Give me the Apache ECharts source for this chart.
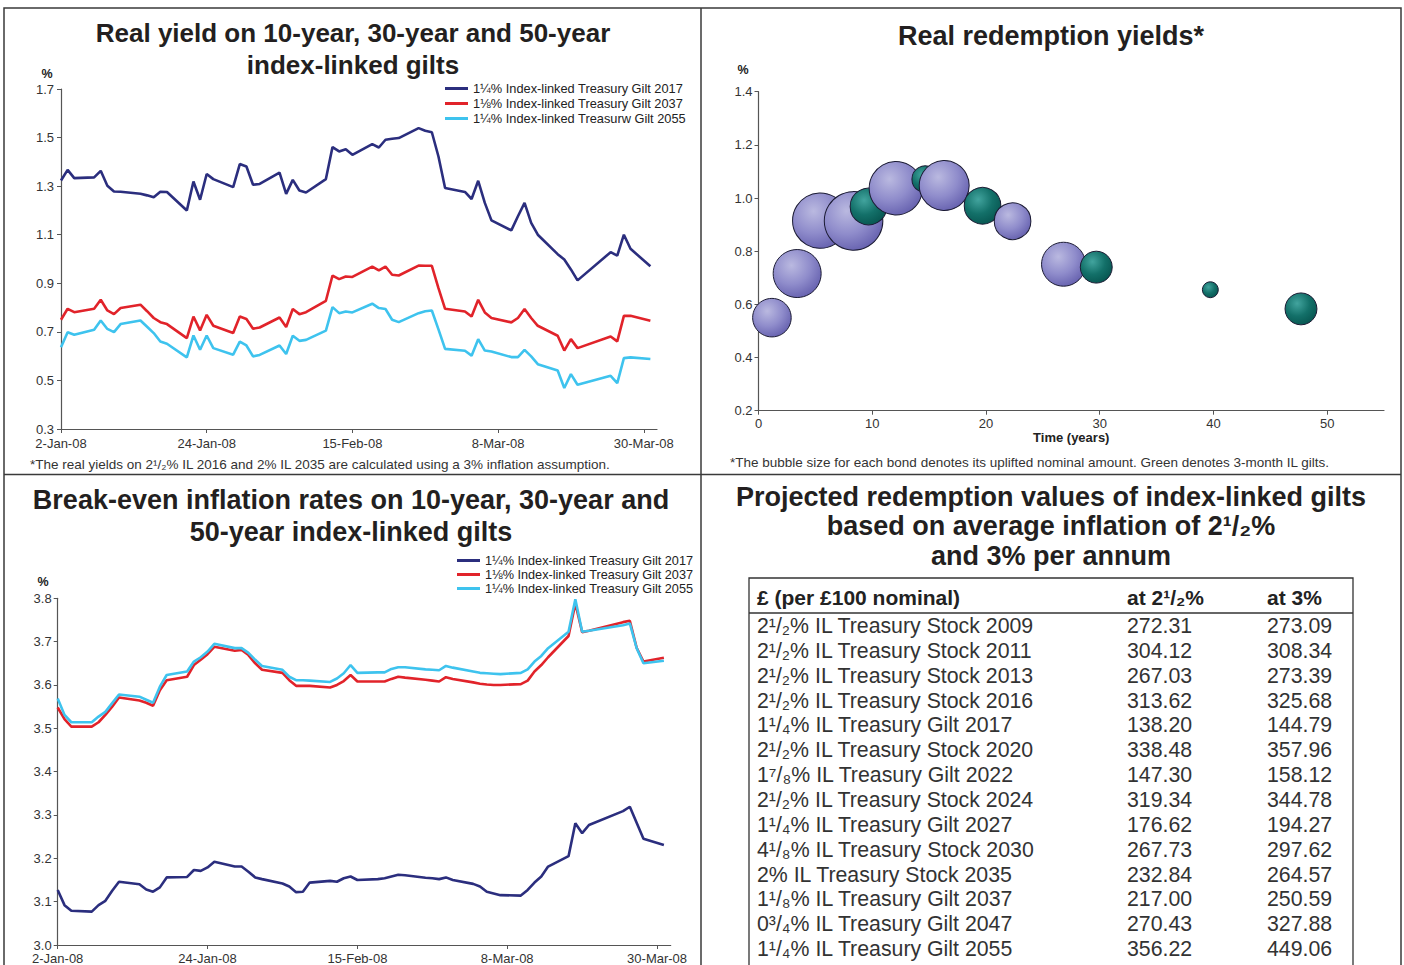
<!DOCTYPE html>
<html><head><meta charset="utf-8">
<script src="https://cdn.jsdelivr.net/npm/echarts@6/dist/echarts.min.js"></script>
<style>html,body{margin:0;padding:0;background:#fff}#c{width:1404px;height:965px}</style>
</head><body><div id="c"></div>
<script>
// ---------- DATA ----------
const dates = ['2008-01-02','2008-01-03','2008-01-04','2008-01-07','2008-01-08','2008-01-09','2008-01-10','2008-01-11','2008-01-14','2008-01-15','2008-01-16','2008-01-17','2008-01-18','2008-01-21','2008-01-22','2008-01-23','2008-01-24','2008-01-25','2008-01-28','2008-01-29','2008-01-30','2008-01-31','2008-02-01','2008-02-04','2008-02-05','2008-02-06','2008-02-07','2008-02-08','2008-02-11','2008-02-12','2008-02-13','2008-02-14','2008-02-15','2008-02-18','2008-02-19','2008-02-20','2008-02-21','2008-02-22','2008-02-25','2008-02-26','2008-02-27','2008-02-28','2008-02-29','2008-03-03','2008-03-04','2008-03-05','2008-03-06','2008-03-07','2008-03-10','2008-03-11','2008-03-12','2008-03-13','2008-03-14','2008-03-17','2008-03-18','2008-03-19','2008-03-20','2008-03-25','2008-03-26','2008-03-27','2008-03-28','2008-03-31'];

const realYield2017 = [1.323,1.367,1.333,1.336,1.363,1.302,1.278,1.277,1.269,1.262,1.254,1.277,1.276,1.200,1.319,1.244,1.350,1.329,1.296,1.391,1.381,1.306,1.309,1.356,1.268,1.326,1.282,1.274,1.329,1.461,1.443,1.452,1.429,1.473,1.459,1.491,1.495,1.498,1.539,1.528,1.522,1.422,1.292,1.276,1.247,1.322,1.231,1.159,1.118,1.176,1.231,1.149,1.100,1.020,0.998,0.957,0.912,1.028,1.014,1.100,1.042,0.970];
const realYield2037 = [0.750,0.795,0.781,0.795,0.832,0.788,0.773,0.798,0.812,0.785,0.757,0.740,0.732,0.674,0.763,0.706,0.770,0.725,0.695,0.763,0.753,0.713,0.718,0.759,0.720,0.794,0.773,0.781,0.828,0.932,0.917,0.928,0.926,0.969,0.953,0.969,0.935,0.932,0.973,0.972,0.972,0.880,0.795,0.784,0.763,0.832,0.780,0.757,0.739,0.757,0.794,0.757,0.725,0.684,0.623,0.670,0.633,0.681,0.661,0.766,0.766,0.746];
const realYield2055 = [0.637,0.698,0.688,0.709,0.747,0.712,0.699,0.732,0.747,0.721,0.695,0.660,0.651,0.595,0.685,0.626,0.685,0.633,0.606,0.660,0.644,0.599,0.605,0.644,0.609,0.684,0.663,0.667,0.705,0.802,0.777,0.784,0.780,0.816,0.798,0.794,0.750,0.740,0.777,0.785,0.788,0.710,0.630,0.622,0.602,0.670,0.623,0.619,0.596,0.596,0.626,0.599,0.567,0.541,0.469,0.526,0.482,0.519,0.489,0.592,0.595,0.588];

const breakEven2017 = [3.127,3.092,3.079,3.077,3.092,3.102,3.125,3.146,3.140,3.128,3.123,3.133,3.156,3.157,3.173,3.171,3.179,3.192,3.181,3.181,3.169,3.156,3.152,3.142,3.135,3.122,3.123,3.144,3.148,3.146,3.154,3.158,3.150,3.152,3.154,3.158,3.162,3.161,3.155,3.154,3.152,3.156,3.150,3.141,3.135,3.123,3.119,3.115,3.114,3.127,3.144,3.158,3.181,3.205,3.281,3.258,3.277,3.309,3.319,3.282,3.245,3.231];
const breakEven2037 = [3.548,3.521,3.504,3.504,3.514,3.531,3.550,3.571,3.564,3.559,3.552,3.588,3.611,3.619,3.646,3.658,3.671,3.688,3.679,3.681,3.669,3.650,3.635,3.628,3.611,3.598,3.598,3.598,3.594,3.600,3.609,3.623,3.608,3.608,3.608,3.614,3.619,3.617,3.612,3.610,3.608,3.618,3.614,3.606,3.603,3.601,3.600,3.600,3.602,3.610,3.631,3.646,3.664,3.713,3.788,3.722,3.725,3.745,3.748,3.686,3.654,3.663];
const breakEven2055 = [3.569,3.531,3.514,3.514,3.527,3.538,3.558,3.578,3.573,3.566,3.559,3.596,3.623,3.631,3.654,3.664,3.677,3.695,3.685,3.685,3.674,3.658,3.644,3.635,3.619,3.611,3.611,3.610,3.607,3.615,3.627,3.646,3.628,3.629,3.629,3.637,3.641,3.641,3.636,3.635,3.634,3.644,3.640,3.631,3.628,3.627,3.626,3.625,3.628,3.636,3.654,3.667,3.685,3.723,3.798,3.723,3.725,3.738,3.742,3.685,3.650,3.656];

const dateTickLabels = ['2-Jan-08','24-Jan-08','15-Feb-08','8-Mar-08','30-Mar-08'];
const realYieldTicks = [0.3,0.5,0.7,0.9,1.1,1.3,1.5,1.7];
const breakEvenTicks = [3.0,3.1,3.2,3.3,3.4,3.5,3.6,3.7,3.8];
const bubbleYieldTicks = [0.2,0.4,0.6,0.8,1.0,1.2,1.4];
const bubbleTimeTicks = [0,10,20,30,40,50];

const legendTop = ['1\u00BC% Index-linked Treasury Gilt 2017','1\u215B% Index-linked Treasury Gilt 2037','1\u00BC% Index-linked Treasurw Gilt 2055'];
const legendBottom = ['1\u00BC% Index-linked Treasury Gilt 2017 ','1\u215B% Index-linked Treasury Gilt 2037 ','1\u00BC% Index-linked Treasury Gilt 2055 '];

// bubbles: time to maturity (years), real yield (%), uplifted nominal (est.), 3-month IL flag
const bubbleTime  = [1.18,3.40,5.43,8.36,9.67,12.08,14.66,16.33,19.70,22.34,26.82,29.70,39.73,47.70];
const bubbleYield = [0.550,0.716,0.915,0.914,0.968,1.037,1.071,1.047,0.971,0.913,0.751,0.740,0.655,0.583];
const bubbleSize  = [12.4,19.2,25.6,28.6,11.2,23.8,5.9,20.8,11.2,11.2,16.1,8.5,2.1,8.5];
const bubbleThreeMonth = [0,0,0,0,1,0,1,0,1,0,0,1,1,1];

const tableBonds = ['2\u00B9/\u2082% IL Treasury Stock 2009','2\u00B9/\u2082% IL Treasury Stock 2011','2\u00B9/\u2082% IL Treasury Stock 2013','2\u00B9/\u2082% IL Treasury Stock 2016','1\u00B9/\u2084% IL Treasury Gilt 2017','2\u00B9/\u2082% IL Treasury Stock 2020','1\u2077/\u2088% IL Treasury Gilt 2022','2\u00B9/\u2082% IL Treasury Stock 2024','1\u00B9/\u2084% IL Treasury Gilt 2027','4\u00B9/\u2088% IL Treasury Stock 2030','2% IL Treasury Stock 2035','1\u00B9/\u2088% IL Treasury Gilt 2037','0\u00B3/\u2084% IL Treasury Gilt 2047','1\u00B9/\u2084% IL Treasury Gilt 2055'];
const tableAt25 = ['272.31','304.12','267.03','313.62','138.20','338.48','147.30','319.34','176.62','267.73','232.84','217.00','270.43','356.22'];
const tableAt3  = ['273.09','308.34','273.39','325.68','144.79','357.96','158.12','344.78','194.27','297.62','264.57','250.59','327.88','449.06'];
const tableHeader = ['\u00A3 (per \u00A3100 nominal)','at 2\u00B9/\u2082%','at 3%'];

// ---------- HELPERS ----------
const FONT = '"Liberation Sans", Arial, Helvetica, sans-serif';
const MONTHS = {Jan:0,Feb:1,Mar:2,Apr:3};
const BASE = Date.UTC(2008,0,2);
function dayOf(iso){const p=iso.split('-');return (Date.UTC(+p[0],+p[1]-1,+p[2])-BASE)/86400000;}
function dayOfLabel(l){const p=l.split('-');return (Date.UTC(2000+ +p[2],MONTHS[p[1]],+p[0])-BASE)/86400000;}
const dateTickDays = dateTickLabels.map(dayOfLabel);
const labelForDay = v => { const i = dateTickDays.indexOf(Math.round(v)); return i>=0?dateTickLabels[i]:''; };
const pairs = vals => dates.map((d,i)=>[dayOf(d), vals[i]]);

const NAVY='#2b2e7e', RED='#e1232a', CYAN='#3ec3ee';
const axisCol = '#555';
const lblStyle = {color:'#333', fontSize:13, fontFamily:FONT};

function dateAxis(gi, margin){
  return {type:'value', gridIndex:gi, min:0, max:90, interval:22,
    axisLine:{show:true, lineStyle:{color:axisCol, width:1.2}},
    axisTick:{show:true, length:4, customValues:dateTickDays, lineStyle:{color:axisCol}},
    axisLabel:Object.assign({margin:margin, customValues:dateTickDays, formatter:labelForDay}, lblStyle),
    splitLine:{show:false}};
}
function valAxis(gi, min, max, interval, ticks, margin){
  return {type:'value', gridIndex:gi, min:min, max:max, interval:interval,
    axisLine:{show:true, lineStyle:{color:axisCol, width:1.2}},
    axisTick:{show:true, length:4, customValues:ticks, lineStyle:{color:axisCol}},
    axisLabel:Object.assign({margin:margin, customValues:ticks, formatter:v=>(+v).toFixed(1)}, lblStyle),
    splitLine:{show:false}};
}
function lineSeries(name, xi, vals, color){
  return {type:'line', name:name, xAxisIndex:xi, yAxisIndex:xi, data:pairs(vals), showSymbol:false, symbol:'none',
    lineStyle:{color:color, width:2.6}, itemStyle:{color:color}, animation:false};
}

const purpleFill = {type:'radial', x:0.38, y:0.33, r:0.72, colorStops:[{offset:0,color:'#bab9e0'},{offset:0.55,color:'#8f8ccb'},{offset:1,color:'#6560ae'}]};
const greenFill  = {type:'radial', x:0.38, y:0.33, r:0.72, colorStops:[{offset:0,color:'#42a49e'},{offset:0.55,color:'#137069'},{offset:1,color:'#075550'}]};
const bubbleData = bubbleTime.map((t,i)=>({value:[t, bubbleYield[i], bubbleSize[i]],
  itemStyle:{color: bubbleThreeMonth[i]?greenFill:purpleFill, borderColor:'#1b1b33', borderWidth:1, opacity:1}}));

const tableCols = [0, 370, 510];

const titleStyle = {fontSize:26, fontWeight:'bold', color:'#231f20', fontFamily:FONT, lineHeight:32};
const titleStyleL = Object.assign({}, titleStyle, {fontSize:27});

const option = {
  backgroundColor:'#fff',
  animation:false,
  textStyle:{fontFamily:FONT},
  title:[
    {text:'Real yield on 10-year, 30-year and 50-year\nindex-linked gilts', left:353, top:17, textAlign:'center', padding:0, textStyle:titleStyle},
    {text:'Real redemption yields*', left:1051, top:20, textAlign:'center', padding:0, textStyle:titleStyleL},
    {text:'Break-even inflation rates on 10-year, 30-year and\n50-year index-linked gilts', left:351, top:484, textAlign:'center', padding:0, textStyle:titleStyleL},
    {text:'Projected redemption values of index-linked gilts\nbased on average inflation of 2\u00B9/\u2082%\nand 3% per annum', left:1051, top:482, textAlign:'center', padding:0, textStyle:Object.assign({}, titleStyleL, {lineHeight:29.5})}
  ],
  legend:[
    {data:legendTop, left:445, top:82, orient:'vertical', itemWidth:23, itemHeight:3, itemGap:2, icon:'rect', padding:0,
      textStyle:{fontSize:12.8, color:'#222', fontFamily:FONT}, selectedMode:false},
    {data:legendBottom, left:457, top:554, orient:'vertical', itemWidth:23, itemHeight:3, itemGap:1, icon:'rect', padding:0,
      textStyle:{fontSize:12.7, color:'#222', fontFamily:FONT}, selectedMode:false}
  ],
  grid:[
    {left:61, top:89, width:596, height:340},
    {left:758.5, top:91.7, width:625.5, height:319},
    {left:57.7, top:598.3, width:613, height:346.7},
    {left:757, top:613.6, width:590, height:348}
  ],
  xAxis:[
    dateAxis(0, 8),
    {type:'value', gridIndex:1, min:0, max:55, interval:10,
      name:'Time (years)', nameLocation:'middle', nameGap:20, nameTextStyle:{fontSize:13, fontWeight:'bold', color:'#222', fontFamily:FONT},
      axisLine:{show:true, lineStyle:{color:axisCol, width:1.2}},
      axisTick:{show:true, length:4, customValues:bubbleTimeTicks, lineStyle:{color:axisCol}},
      axisLabel:Object.assign({margin:6, customValues:bubbleTimeTicks}, lblStyle),
      splitLine:{show:false}},
    dateAxis(2, 7),
    {type:'value', gridIndex:3, min:0, max:590, show:false}
  ],
  yAxis:[
    valAxis(0, 0.3, 1.7, 0.2, realYieldTicks, 7),
    valAxis(1, 0.2, 1.4, 0.2, bubbleYieldTicks, 6),
    valAxis(2, 3.0, 3.8, 0.1, breakEvenTicks, 6),
    {type:'category', gridIndex:3, data:tableBonds, inverse:true, show:false}
  ],
  series:[
    lineSeries(legendTop[0], 0, realYield2017, NAVY),
    lineSeries(legendTop[1], 0, realYield2037, RED),
    lineSeries(legendTop[2], 0, realYield2055, CYAN),
    {type:'scatter', xAxisIndex:1, yAxisIndex:1, data:bubbleData, symbol:'circle',
      symbolSize: v => 10.95*Math.sqrt(v[2]), animation:false, emphasis:{disabled:true}},
    lineSeries(legendBottom[0], 2, breakEven2017, NAVY),
    lineSeries(legendBottom[1], 2, breakEven2037, RED),
    lineSeries(legendBottom[2], 2, breakEven2055, CYAN),
    {type:'custom', xAxisIndex:3, yAxisIndex:3, animation:false,
      data: tableBonds.map((n,i)=>[0,i]),
      renderItem:(params, api)=>{
        const i = params.dataIndex;
        const y = api.coord([0, i])[1];
        const texts = [tableBonds[i], tableAt25[i], tableAt3[i]];
        return {type:'group', children: texts.map((t,k)=>({type:'text',
          style:{text:t, x:api.coord([tableCols[k], i])[0], y:y, verticalAlign:'middle', align:'left',
            font:'21.3px '+FONT, fill:'#333'}}))};
      }}
  ],
  graphic:[
    {type:'rect', silent:true, shape:{x:4, y:8, width:1397, height:990}, style:{fill:'none', stroke:'#3a3a3a', lineWidth:1.5}},
    {type:'line', silent:true, shape:{x1:701, y1:8, x2:701, y2:965}, style:{stroke:'#3a3a3a', lineWidth:1.5}},
    {type:'line', silent:true, shape:{x1:4, y1:474.5, x2:1401, y2:474.5}, style:{stroke:'#3a3a3a', lineWidth:1.5}},
    {type:'rect', silent:true, shape:{x:749, y:578, width:604, height:420}, style:{fill:'none', stroke:'#333', lineWidth:1.3}},
    {type:'line', silent:true, shape:{x1:749, y1:613, x2:1353, y2:613}, style:{stroke:'#333', lineWidth:1.3}},
    {type:'text', silent:true, style:{text:tableHeader[0], x:757, y:597, verticalAlign:'middle', font:'bold 21px '+FONT, fill:'#222'}},
    {type:'text', silent:true, style:{text:tableHeader[1], x:1127, y:597, verticalAlign:'middle', font:'bold 21px '+FONT, fill:'#222'}},
    {type:'text', silent:true, style:{text:tableHeader[2], x:1267, y:597, verticalAlign:'middle', font:'bold 21px '+FONT, fill:'#222'}},
    {type:'text', silent:true, style:{text:'%', x:47, y:74, align:'center', verticalAlign:'middle', font:'bold 12.5px '+FONT, fill:'#222'}},
    {type:'text', silent:true, style:{text:'%', x:743, y:70, align:'center', verticalAlign:'middle', font:'bold 12.5px '+FONT, fill:'#222'}},
    {type:'text', silent:true, style:{text:'%', x:43, y:582, align:'center', verticalAlign:'middle', font:'bold 12.5px '+FONT, fill:'#222'}},
    {type:'text', silent:true, style:{text:'*The real yields on 2\u00B9/\u2082% IL 2016 and 2% IL 2035 are calculated using a 3% inflation assumption.', x:30, y:464, verticalAlign:'middle', font:'13.5px '+FONT, fill:'#333'}},
    {type:'text', silent:true, style:{text:'*The bubble size for each bond denotes its uplifted nominal amount. Green denotes 3-month IL gilts.', x:730, y:462, verticalAlign:'middle', font:'13.5px '+FONT, fill:'#333'}}
  ]
};

const chart = echarts.init(document.getElementById('c'), null, {renderer:'svg', width:1404, height:965});
chart.setOption(option);
</script>
</body></html>
